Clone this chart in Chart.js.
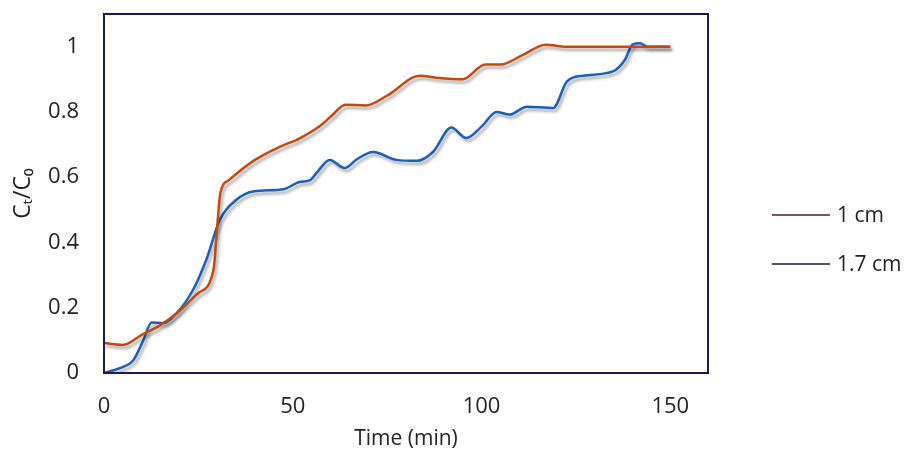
<!DOCTYPE html>
<html>
<head>
<meta charset="utf-8">
<script src="https://cdn.jsdelivr.net/npm/chart.js@4/dist/chart.umd.min.js"></script>
<style>
html,body{margin:0;padding:0;background:#fff;}
#wrap{width:908px;height:457px;position:relative;}
</style>
</head>
<body>
<div id="wrap"><canvas id="c" width="908" height="457"></canvas></div>
<script>
const seriesNames = ["1 cm", "1.7 cm"];
const time1 = [0,5,10,15,20,25,29,30,30.8,33,35,40,46,52,57,60,64,69.5,75,83.7,88,95,101,105,111,117,122.6,135,150];
const ratio1 = [0.092,0.086,0.117,0.147,0.19,0.245,0.316,0.45,0.55,0.59,0.61,0.653,0.69,0.72,0.755,0.785,0.822,0.82,0.85,0.911,0.905,0.90,0.945,0.945,0.975,1.006,1.0,1.0,1.0];
const time2 = [0,4.2,7.8,10.4,12.6,15.6,19.3,23.6,27.2,30.7,35,39.5,47.5,52,54.5,56.3,59.8,63.8,67,71.3,77.5,82.8,87.2,92,96,100,104,107.5,112,119,122.6,126.9,134.8,138,140,142,144,150];
const ratio2 = [0,0.015,0.04,0.10,0.155,0.153,0.184,0.255,0.35,0.47,0.53,0.556,0.563,0.586,0.59,0.613,0.653,0.628,0.655,0.677,0.653,0.65,0.678,0.752,0.72,0.755,0.80,0.792,0.816,0.812,0.893,0.911,0.924,0.96,1.006,1.01,1.0,1.0];
const xTicks = [0,50,100,150];
const yTicks = [0,0.2,0.4,0.6,0.8,1];

const FONT = "'Open Sans', sans-serif";
const toPts = (t, v) => t.map((x, i) => ({x: x, y: v[i]}));

const shadowPlugin = {
  id: 'shadow',
  beforeDatasetsDraw(chart) {
    const ctx = chart.ctx;
    ctx.save();
    ctx.shadowColor = 'rgba(0,0,0,0.35)';
    ctx.shadowOffsetX = 2;
    ctx.shadowOffsetY = 3;
    ctx.shadowBlur = 3;
  },
  afterDatasetsDraw(chart) { chart.ctx.restore(); }
};

const frame = {
  id: 'frame',
  afterDraw(chart) {
    const {ctx, chartArea: a} = chart;
    ctx.save();
    ctx.strokeStyle = '#1b1e4a';
    ctx.lineWidth = 2;
    ctx.strokeRect(a.left, a.top, a.right - a.left, a.bottom - a.top);
    const lcols = ['#5a1c18', '#1a1a2a'];
    const ly = [215, 264];
    ctx.font = "21px " + FONT;
    ctx.textBaseline = 'middle';
    ctx.fillStyle = '#222';
    seriesNames.forEach((n, i) => {
      ctx.strokeStyle = lcols[i];
      ctx.lineWidth = 1.5;
      ctx.beginPath();
      ctx.moveTo(772, ly[i]);
      ctx.lineTo(830, ly[i]);
      ctx.stroke();
      ctx.fillText(n, 837, ly[i] + 1);
    });
    ctx.restore();
  }
};

function noPad(s) { s.paddingTop = 0; s.paddingBottom = 0; s.paddingLeft = 0; s.paddingRight = 0; }

new Chart(document.getElementById('c'), {
  type: 'line',
  data: {
    datasets: [
      {label: seriesNames[0], data: toPts(time1, ratio1), borderColor: '#c24a10', borderWidth: 2.5, pointRadius: 0, cubicInterpolationMode: 'monotone', fill: false},
      {label: seriesNames[1], data: toPts(time2, ratio2), borderColor: '#1c5fb8', borderWidth: 2.5, pointRadius: 0, cubicInterpolationMode: 'monotone', fill: false}
    ]
  },
  options: {
    responsive: false,
    animation: false,
    layout: {padding: {left: 0, right: 200, top: 14, bottom: 0}},
    plugins: {legend: {display: false}, tooltip: {enabled: false}},
    scales: {
      x: {
        type: 'linear', min: 0, max: 160,
        afterBuildTicks: s => { s.ticks = xTicks.map(v => ({value: v})); },
        afterFit: s => { s.height = 84; noPad(s); },
        grid: {display: false, drawTicks: false},
        border: {display: false},
        ticks: {padding: 21, color: '#222', font: {family: FONT, size: 22}},
        title: {display: true, text: 'Time (min)', color: '#222', font: {family: FONT, size: 21}, padding: {top: 0, bottom: 5}}
      },
      y: {
        type: 'linear', min: 0, max: 1.1,
        afterBuildTicks: s => { s.ticks = yTicks.map(v => ({value: v})); },
        afterFit: s => { s.width = 104; noPad(s); },
        grid: {display: false, drawTicks: false},
        border: {display: false},
        ticks: {padding: 25, color: '#222', font: {family: FONT, size: 22}, callback: v => String(v)},
        title: {display: true, text: 'Cₜ/C₀', color: '#222', font: {family: FONT, size: 23}, padding: {top: 10, bottom: 0}}
      }
    }
  },
  plugins: [shadowPlugin, frame]
});
</script>
</body>
</html>
